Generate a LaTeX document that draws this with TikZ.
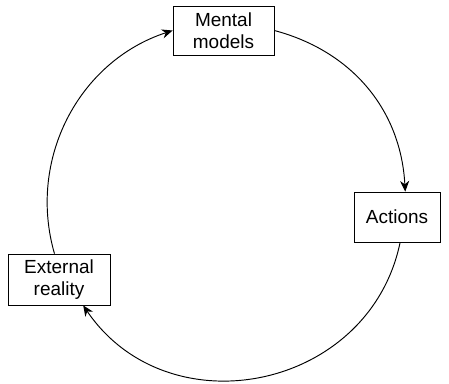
\documentclass[tikz,border=0pt]{standalone}
\usepackage{fontspec}
\setmainfont{Liberation Sans}
\usetikzlibrary{arrows.meta}
\begin{document}
\begin{tikzpicture}[box/.style={draw, align=center, inner sep=0pt, font=\fontsize{10}{11.5}\selectfont},
                    pfeil/.style={-{Stealth[length=2mm,width=1.7mm]}, line width=0.5pt}]
        \useasboundingbox (0,0) rectangle (8.315,7.093);

        %Kaesten
        \node[box, minimum width=1.87cm, minimum height=0.907cm] (mental) at (4.139,6.528) {Mental\\models};
        \node[box, minimum width=1.593cm, minimum height=0.926cm] (actions) at (7.352,3.074) {Actions};
        \node[box, minimum width=1.889cm, minimum height=0.944cm] (external) at (1.093,1.917) {External\\reality};

        %Pfeile
        \draw[pfeil] (mental.east) to[bend left=36] (actions.72);
        \draw[pfeil] (actions.-83) to[bend left=67, looseness=1.2] (external.-47);
        \draw[pfeil] (external.100) to[bend left=44] (mental.west);
    \end{tikzpicture}
\end{document}
